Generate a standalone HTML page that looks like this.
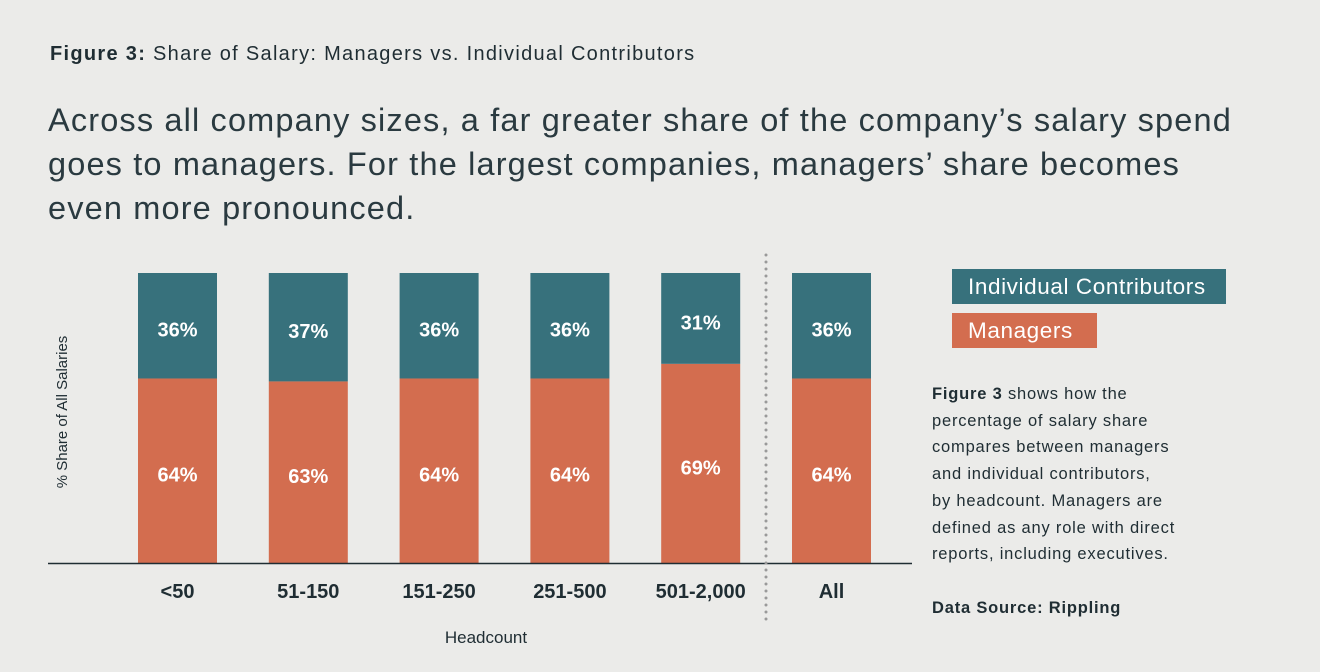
<!DOCTYPE html>
<html><head><meta charset="utf-8"><style>
body{margin:0;width:1320px;height:672px;background:#ebebe9;font-family:"Liberation Sans",sans-serif;color:#1f2d33;overflow:hidden;position:relative}
.t{position:absolute;left:50px;top:43px;font-size:20px;letter-spacing:1.3px;white-space:nowrap}
.h{position:absolute;left:48px;top:98px;font-size:32.5px;line-height:44px;width:1260px;color:#2a3a40;letter-spacing:1.15px;white-space:nowrap}
.leg{position:absolute;left:952px;height:35px;color:#fff;font-size:22.5px;line-height:35px;padding-left:16px;box-sizing:border-box;letter-spacing:0.6px;white-space:nowrap}
.note{position:absolute;left:932px;top:381px;font-size:16.5px;line-height:26.7px;width:300px;letter-spacing:0.8px;white-space:nowrap}
</style></head><body>
<div class="t"><b>Figure 3:</b> Share of Salary: Managers vs. Individual Contributors</div>
<div class="h">Across all company sizes, a far greater share of the company’s salary spend<br>goes to managers. For the largest companies, managers’ share becomes<br>even more pronounced.</div>
<div class="leg" style="top:269px;width:274px;background:#37717c">Individual Contributors</div>
<div class="leg" style="top:313px;width:145px;background:#d36d4f">Managers</div>
<div class="note"><b>Figure 3</b> shows how the<br>percentage of salary share<br>compares between managers<br>and individual contributors,<br>by headcount. Managers are<br>defined as any role with direct<br>reports, including executives.<br><br><b>Data Source: Rippling</b></div>
<svg id="c" width="1320" height="672" style="position:absolute;left:0;top:0"></svg>
<script>
const categories=["<50","51-150","151-250","251-500","501-2,000","All"];
const icValues=[36,37,36,36,31,36];
const mgrValues=[64,63,64,64,69,64];
const svg=document.getElementById('c');const NS='http://www.w3.org/2000/svg';
const top0=273,base=566,H=base-top0;
function y(v){return base-v/100*H;}
function x(i){return 138+i*130.8;}
const bw=79;
function mk(t,a){const e=document.createElementNS(NS,t);for(const k in a)e.setAttribute(k,a[k]);svg.appendChild(e);return e;}
categories.forEach((c,i)=>{
 const m=mgrValues[i],ic=icValues[i];
 const r1=mk('rect',{x:x(i),y:y(m),width:bw,height:563-y(m),fill:'#d36d4f'});
 
 
 const r2=mk('rect',{x:x(i),y:y(m+ic),width:bw,height:y(m)-y(m+ic),fill:'#37717c'});
 
 
 const t1=mk('text',{x:x(i)+bw/2,y:(y(m)+563)/2+11,'text-anchor':'middle',fill:'#fff','font-size':20,'font-weight':'bold'});t1.textContent=m+'%';
 
 
 const t2=mk('text',{x:x(i)+bw/2,y:(y(m)+y(m+ic))/2+11,'text-anchor':'middle',fill:'#fff','font-size':20,'font-weight':'bold'});t2.textContent=ic+'%';
 
 
 const t3=mk('text',{x:x(i)+bw/2,y:598,'text-anchor':'middle',fill:'#1f2d33','font-size':20,'font-weight':'bold'});t3.textContent=c;
 
 
});
const bl=mk('line',{x1:48,x2:912,y1:563.5,y2:563.5,stroke:'#1f2d33','stroke-width':1.5});


const dl=mk('line',{x1:766,x2:766,y1:255,y2:622,stroke:'#999','stroke-width':3,'stroke-dasharray':'0 7','stroke-linecap':'round'});


const xt=mk('text',{x:486,y:643,'text-anchor':'middle',fill:'#1f2d33','font-size':17});xt.textContent='Headcount';


const yt=mk('text',{x:0,y:0,transform:'translate(67,412) rotate(-90)','text-anchor':'middle',fill:'#1f2d33','font-size':15});yt.textContent='% Share of All Salaries';


</script>
</body></html>
